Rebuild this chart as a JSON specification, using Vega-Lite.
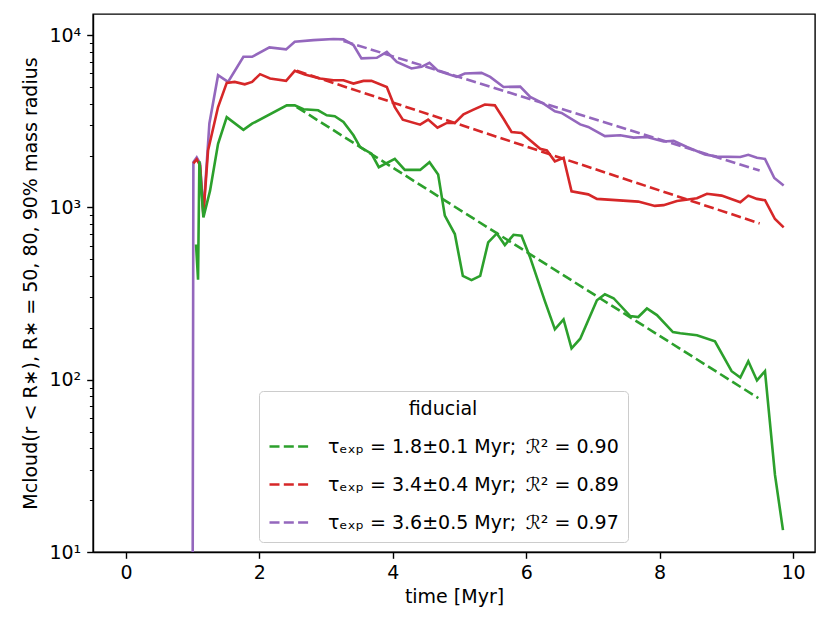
{
  "$schema": "https://vega.github.io/schema/vega-lite/v6.json",
  "width": 722,
  "height": 538,
  "autosize": {"type": "none"},
  "padding": {"left": 93, "top": 14, "right": 15, "bottom": 76},
  "background": "white",
  "config": {
    "font": "DejaVu Sans",
    "view": {"stroke": "black", "strokeWidth": 1.4},
    "axis": {
      "grid": false,
      "domainColor": "black",
      "domainWidth": 1.4,
      "tickColor": "black",
      "tickWidth": 1.4,
      "labelColor": "black",
      "titleColor": "black",
      "labelFont": "DejaVu Sans",
      "titleFont": "DejaVu Sans",
      "labelFontSize": 19,
      "titleFontSize": 19,
      "titleFontWeight": "normal"
    },
    "legend": {
      "labelFont": "DejaVu Sans",
      "titleFont": "DejaVu Sans",
      "labelFontSize": 19,
      "titleFontSize": 19,
      "titleFontWeight": "normal",
      "labelColor": "black",
      "titleColor": "black",
      "labelLimit": 500
    }
  },
  "datasets": {
    "curves": [
      {"s": "p", "t": 1.00, "M": 10}, {"s": "p", "t": 1.01, "M": 1830}, {"s": "p", "t": 1.06, "M": 1950},
      {"s": "p", "t": 1.11, "M": 1800}, {"s": "p", "t": 1.16, "M": 920}, {"s": "p", "t": 1.25, "M": 3070},
      {"s": "p", "t": 1.38, "M": 5850}, {"s": "p", "t": 1.53, "M": 5350}, {"s": "p", "t": 1.76, "M": 7480},
      {"s": "p", "t": 1.89, "M": 7480}, {"s": "p", "t": 2.15, "M": 8480}, {"s": "p", "t": 2.40, "M": 8260},
      {"s": "p", "t": 2.53, "M": 9140}, {"s": "p", "t": 2.81, "M": 9350}, {"s": "p", "t": 3.11, "M": 9480},
      {"s": "p", "t": 3.26, "M": 9440}, {"s": "p", "t": 3.41, "M": 8750}, {"s": "p", "t": 3.53, "M": 7320},
      {"s": "p", "t": 3.76, "M": 7380}, {"s": "p", "t": 3.91, "M": 7990}, {"s": "p", "t": 4.06, "M": 6990},
      {"s": "p", "t": 4.28, "M": 6400}, {"s": "p", "t": 4.43, "M": 6540}, {"s": "p", "t": 4.55, "M": 6900},
      {"s": "p", "t": 4.68, "M": 6200}, {"s": "p", "t": 4.96, "M": 5720}, {"s": "p", "t": 5.08, "M": 5980},
      {"s": "p", "t": 5.33, "M": 6030}, {"s": "p", "t": 5.46, "M": 5720}, {"s": "p", "t": 5.66, "M": 5000},
      {"s": "p", "t": 5.91, "M": 5020}, {"s": "p", "t": 6.06, "M": 4370}, {"s": "p", "t": 6.26, "M": 4000},
      {"s": "p", "t": 6.43, "M": 3610}, {"s": "p", "t": 6.53, "M": 3530}, {"s": "p", "t": 6.81, "M": 3030},
      {"s": "p", "t": 6.93, "M": 2930}, {"s": "p", "t": 7.18, "M": 2590}, {"s": "p", "t": 7.41, "M": 2620},
      {"s": "p", "t": 7.61, "M": 2540}, {"s": "p", "t": 7.81, "M": 2560}, {"s": "p", "t": 8.06, "M": 2410},
      {"s": "p", "t": 8.21, "M": 2430}, {"s": "p", "t": 8.41, "M": 2240}, {"s": "p", "t": 8.68, "M": 2030},
      {"s": "p", "t": 8.86, "M": 1970}, {"s": "p", "t": 9.21, "M": 1960}, {"s": "p", "t": 9.33, "M": 2020},
      {"s": "p", "t": 9.46, "M": 1940}, {"s": "p", "t": 9.58, "M": 1910}, {"s": "p", "t": 9.72, "M": 1480},
      {"s": "p", "t": 9.86, "M": 1340},

      {"s": "r", "t": 1.01, "M": 1800}, {"s": "r", "t": 1.06, "M": 1900}, {"s": "r", "t": 1.11, "M": 1750},
      {"s": "r", "t": 1.16, "M": 900}, {"s": "r", "t": 1.23, "M": 2140}, {"s": "r", "t": 1.38, "M": 3820},
      {"s": "r", "t": 1.51, "M": 5280}, {"s": "r", "t": 1.63, "M": 5350}, {"s": "r", "t": 1.78, "M": 5180},
      {"s": "r", "t": 1.89, "M": 5350}, {"s": "r", "t": 2.01, "M": 5930}, {"s": "r", "t": 2.16, "M": 5600},
      {"s": "r", "t": 2.40, "M": 5420}, {"s": "r", "t": 2.53, "M": 6200}, {"s": "r", "t": 2.68, "M": 5900},
      {"s": "r", "t": 2.91, "M": 5600}, {"s": "r", "t": 3.11, "M": 5470}, {"s": "r", "t": 3.26, "M": 5470},
      {"s": "r", "t": 3.41, "M": 5230}, {"s": "r", "t": 3.56, "M": 5420}, {"s": "r", "t": 3.68, "M": 5420},
      {"s": "r", "t": 3.91, "M": 5000}, {"s": "r", "t": 4.03, "M": 3820}, {"s": "r", "t": 4.15, "M": 3230},
      {"s": "r", "t": 4.41, "M": 3020}, {"s": "r", "t": 4.53, "M": 3230}, {"s": "r", "t": 4.67, "M": 2900},
      {"s": "r", "t": 4.81, "M": 3090}, {"s": "r", "t": 4.93, "M": 3090}, {"s": "r", "t": 5.06, "M": 3470},
      {"s": "r", "t": 5.21, "M": 3690}, {"s": "r", "t": 5.38, "M": 3950}, {"s": "r", "t": 5.53, "M": 3910},
      {"s": "r", "t": 5.66, "M": 3270}, {"s": "r", "t": 5.78, "M": 2740}, {"s": "r", "t": 5.93, "M": 2700},
      {"s": "r", "t": 6.21, "M": 2190}, {"s": "r", "t": 6.31, "M": 2140}, {"s": "r", "t": 6.43, "M": 1850},
      {"s": "r", "t": 6.56, "M": 1940}, {"s": "r", "t": 6.68, "M": 1240}, {"s": "r", "t": 6.93, "M": 1190},
      {"s": "r", "t": 7.06, "M": 1120}, {"s": "r", "t": 7.68, "M": 1080}, {"s": "r", "t": 7.93, "M": 1020},
      {"s": "r", "t": 8.06, "M": 1030}, {"s": "r", "t": 8.26, "M": 1090}, {"s": "r", "t": 8.56, "M": 1130},
      {"s": "r", "t": 8.71, "M": 1200}, {"s": "r", "t": 8.93, "M": 1170}, {"s": "r", "t": 9.21, "M": 1070},
      {"s": "r", "t": 9.33, "M": 1170}, {"s": "r", "t": 9.46, "M": 1120}, {"s": "r", "t": 9.58, "M": 1100},
      {"s": "r", "t": 9.73, "M": 856}, {"s": "r", "t": 9.86, "M": 765},

      {"s": "g", "t": 1.05, "M": 610}, {"s": "g", "t": 1.08, "M": 380}, {"s": "g", "t": 1.10, "M": 1850},
      {"s": "g", "t": 1.16, "M": 875}, {"s": "g", "t": 1.26, "M": 1250}, {"s": "g", "t": 1.38, "M": 2340},
      {"s": "g", "t": 1.51, "M": 3340}, {"s": "g", "t": 1.76, "M": 2820}, {"s": "g", "t": 1.89, "M": 3060},
      {"s": "g", "t": 2.41, "M": 3910}, {"s": "g", "t": 2.53, "M": 3910}, {"s": "g", "t": 2.66, "M": 3710},
      {"s": "g", "t": 2.88, "M": 3660}, {"s": "g", "t": 3.01, "M": 3420}, {"s": "g", "t": 3.13, "M": 3380},
      {"s": "g", "t": 3.26, "M": 3130}, {"s": "g", "t": 3.41, "M": 2620}, {"s": "g", "t": 3.51, "M": 2240},
      {"s": "g", "t": 3.68, "M": 2050}, {"s": "g", "t": 3.79, "M": 1710}, {"s": "g", "t": 4.03, "M": 1910},
      {"s": "g", "t": 4.18, "M": 1650}, {"s": "g", "t": 4.41, "M": 1650}, {"s": "g", "t": 4.55, "M": 1830},
      {"s": "g", "t": 4.68, "M": 1550}, {"s": "g", "t": 4.78, "M": 895}, {"s": "g", "t": 4.93, "M": 700},
      {"s": "g", "t": 5.05, "M": 400}, {"s": "g", "t": 5.18, "M": 378}, {"s": "g", "t": 5.31, "M": 400},
      {"s": "g", "t": 5.43, "M": 626}, {"s": "g", "t": 5.56, "M": 706}, {"s": "g", "t": 5.68, "M": 604},
      {"s": "g", "t": 5.81, "M": 693}, {"s": "g", "t": 5.93, "M": 684}, {"s": "g", "t": 6.06, "M": 511},
      {"s": "g", "t": 6.28, "M": 286}, {"s": "g", "t": 6.43, "M": 196}, {"s": "g", "t": 6.56, "M": 224},
      {"s": "g", "t": 6.68, "M": 152}, {"s": "g", "t": 6.81, "M": 173}, {"s": "g", "t": 7.06, "M": 289},
      {"s": "g", "t": 7.18, "M": 313}, {"s": "g", "t": 7.31, "M": 297}, {"s": "g", "t": 7.56, "M": 234},
      {"s": "g", "t": 7.68, "M": 231}, {"s": "g", "t": 7.81, "M": 259}, {"s": "g", "t": 7.96, "M": 237},
      {"s": "g", "t": 8.20, "M": 189}, {"s": "g", "t": 8.31, "M": 186}, {"s": "g", "t": 8.56, "M": 181},
      {"s": "g", "t": 8.83, "M": 167}, {"s": "g", "t": 9.08, "M": 112}, {"s": "g", "t": 9.21, "M": 103},
      {"s": "g", "t": 9.33, "M": 128}, {"s": "g", "t": 9.46, "M": 99}, {"s": "g", "t": 9.58, "M": 112},
      {"s": "g", "t": 9.73, "M": 28}, {"s": "g", "t": 9.85, "M": 13.4}
    ],
    "fits": [
      {"s": "g", "t": 2.56, "M": 3820}, {"s": "g", "t": 9.48, "M": 78.2},
      {"s": "r", "t": 2.56, "M": 6200}, {"s": "r", "t": 9.50, "M": 807},
      {"s": "p", "t": 3.26, "M": 9250}, {"s": "p", "t": 9.50, "M": 1636}
    ]
  },
  "encoding": {
    "x": {
      "field": "t",
      "type": "quantitative",
      "scale": {"domain": [-0.495, 10.33], "nice": false, "zero": false},
      "axis": {
        "title": "time [Myr]",
        "values": [0, 2, 4, 6, 8, 10],
        "format": "d",
        "tickSize": 6.3,
        "labelPadding": 5,
        "labelFlush": false,
        "titlePadding": 5
      }
    },
    "y": {
      "field": "M",
      "type": "quantitative",
      "scale": {"type": "log", "domain": [10, 13250], "nice": false},
      "axis": {
        "title": "Mcloud(r < R∗), R∗ = 50, 80, 90% mass radius",
        "values": [10, 20, 30, 40, 50, 60, 70, 80, 90, 100, 200, 300, 400, 500, 600, 700, 800, 900, 1000, 2000, 3000, 4000, 5000, 6000, 7000, 8000, 9000, 10000],
        "labelExpr": "datum.value == 10 ? '10¹' : datum.value == 100 ? '10²' : datum.value == 1000 ? '10³' : datum.value == 10000 ? '10⁴' : ''",
        "tickSize": {"condition": {"test": "datum.value == 10 || datum.value == 100 || datum.value == 1000 || datum.value == 10000", "value": 6.3}, "value": 3.6},
        "tickWidth": {"condition": {"test": "datum.value == 10 || datum.value == 100 || datum.value == 1000 || datum.value == 10000", "value": 1.4}, "value": 1},
        "labelPadding": 6,
        "titlePadding": 8
      }
    },
    "color": {
      "field": "s",
      "type": "nominal",
      "scale": {"domain": ["g", "r", "p"], "range": ["#2ca02c", "#d62728", "#9467bd"]},
      "legend": {
        "title": "fiducial",
        "orient": "none",
        "legendX": 166,
        "legendY": 377,
        "titleAnchor": "middle",
        "titlePadding": 6,
        "symbolType": "stroke",
        "symbolDash": [10, 4.3],
        "symbolStrokeWidth": 2.7,
        "symbolSize": 1600,
        "labelOffset": 17,
        "padding": 9,
        "rowPadding": 6,
        "strokeColor": "#cccccc",
        "fillColor": "white",
        "cornerRadius": 4,
        "labelExpr": "datum.value == 'g' ? 'τₑₓₚ = 1.8±0.1 Myr;\u2002ℛ² = 0.90' : datum.value == 'r' ? 'τₑₓₚ = 3.4±0.4 Myr;\u2002ℛ² = 0.89' : 'τₑₓₚ = 3.6±0.5 Myr;\u2002ℛ² = 0.97'"
      }
    }
  },
  "layer": [
    {
      "data": {"name": "curves"},
      "mark": {"type": "line", "strokeWidth": 2.6, "clip": true}
    },
    {
      "data": {"name": "fits"},
      "mark": {"type": "line", "strokeWidth": 2.6, "strokeDash": [10, 4.3], "clip": true}
    }
  ]
}
